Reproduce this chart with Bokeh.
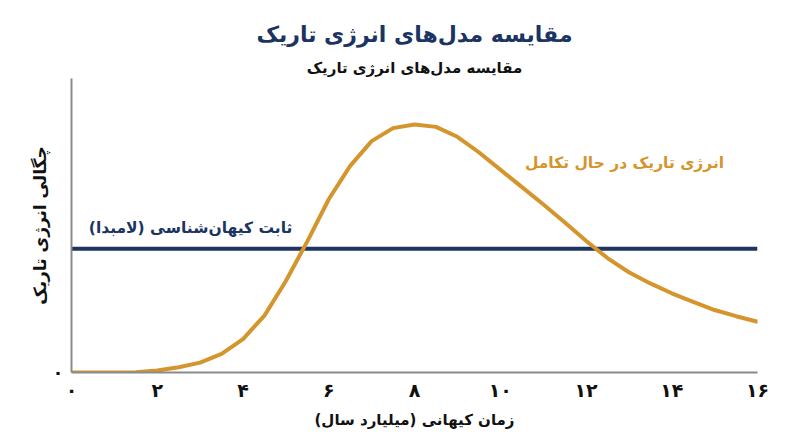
from bokeh.plotting import figure
from bokeh.models import Title, Label, FixedTicker, Range1d
from bokeh.embed import file_html
from bokeh.resources import INLINE

# ---- data ----
time_gyr = [0, 0.5, 1, 1.5, 2, 2.5, 3, 3.5, 4, 4.5, 5, 5.5, 6, 6.5, 7, 7.5, 8,
            8.5, 9, 9.5, 10, 10.5, 11, 11.5, 12, 12.5, 13, 13.5, 14, 14.5, 15, 15.5, 16]
evolving_density = [0, 0, 0, 0.003, 0.016, 0.043, 0.08, 0.15, 0.27, 0.46, 0.74, 1.06, 1.40,
                    1.67, 1.87, 1.975, 2.005, 1.985, 1.905, 1.78, 1.64, 1.50, 1.36, 1.215,
                    1.065, 0.925, 0.81, 0.72, 0.64, 0.57, 0.505, 0.455, 0.41]
lambda_x = [0, 16]
lambda_y = [1.0, 1.0]
x_ticks = [0, 2, 4, 6, 8, 10, 12, 14, 16]
x_tick_labels = ["۰", "۲", "۴", "۶", "۸", "۱۰", "۱۲", "۱۴", "۱۶"]
y_ticks = [0]
y_tick_labels = ["۰"]

title_text = "مقایسه مدل‌های انرژی تاریک"
subtitle_text = "مقایسه مدل‌های انرژی تاریک"
x_label = "زمان کیهانی (میلیارد سال)\u200f"
y_label = "چگالی انرژی تاریک"
lambda_label = "ثابت کیهان‌شناسی (لامبدا)\u200f"
evolving_label = "انرژی تاریک در حال تکامل"

NAVY = "#1c3461"
ORANGE = "#d4952c"
FONT = "DejaVu Sans"

p = figure(width=784, height=431, output_backend="svg", toolbar_location=None,
           x_range=Range1d(0, 16), y_range=Range1d(0, 2.376),
           min_border_left=71, min_border_right=27, min_border_bottom=10,
           min_border_top=78)
p.outline_line_color = None
p.xgrid.visible = False
p.ygrid.visible = False
p.background_fill_color = "white"

p.add_layout(Title(text=subtitle_text, align="center", text_font=FONT,
                   text_font_size="15px", text_font_style="bold", text_color="#111111",
                   standoff=4), "above")
p.add_layout(Title(text=title_text, align="center", text_font=FONT,
                   text_font_size="22px", text_font_style="bold", text_color=NAVY,
                   standoff=16), "above")

for ax in (p.xaxis[0], p.yaxis[0]):
    ax.axis_line_color = "#8a8a8a"
    ax.axis_line_width = 2
    ax.major_tick_line_color = None
    ax.minor_tick_line_color = None
    ax.major_label_text_font = FONT
    ax.major_label_text_font_style = "bold"
    ax.major_label_text_color = "#111111"
    ax.axis_label_text_font = FONT
    ax.axis_label_text_font_style = "bold"
    ax.axis_label_text_color = "#111111"

p.xaxis.ticker = FixedTicker(ticks=x_ticks)
p.xaxis.major_label_overrides = dict(zip(x_ticks, x_tick_labels))
p.xaxis.major_label_text_font_size = "19px"
p.xaxis.major_label_standoff = 0
p.xaxis.axis_label = x_label
p.xaxis.axis_label_text_font_size = "15px"
p.xaxis.axis_label_standoff = 7

p.yaxis.ticker = FixedTicker(ticks=y_ticks)
p.yaxis.major_label_overrides = dict(zip(y_ticks, y_tick_labels))
p.yaxis.major_label_text_font_size = "18px"
p.yaxis.major_label_standoff = 2
p.yaxis.axis_label = y_label
p.yaxis.axis_label_text_font_size = "17px"
p.yaxis.axis_label_standoff = 0

p.line(lambda_x, lambda_y, line_color=NAVY, line_width=4)
p.line(time_gyr, evolving_density, line_color=ORANGE, line_width=4,
       line_join="round", line_cap="round")

p.add_layout(Label(x=5.15, y=1.17, text=lambda_label, text_align="right",
                   text_baseline="middle", text_font=FONT, text_font_size="15.5px",
                   text_font_style="bold", text_color=NAVY))
p.add_layout(Label(x=15.22, y=1.69, text=evolving_label, text_align="right",
                   text_baseline="middle", text_font=FONT, text_font_size="15.5px",
                   text_font_style="bold", text_color=ORANGE))

open("out.html", "w").write(file_html(p, INLINE))
